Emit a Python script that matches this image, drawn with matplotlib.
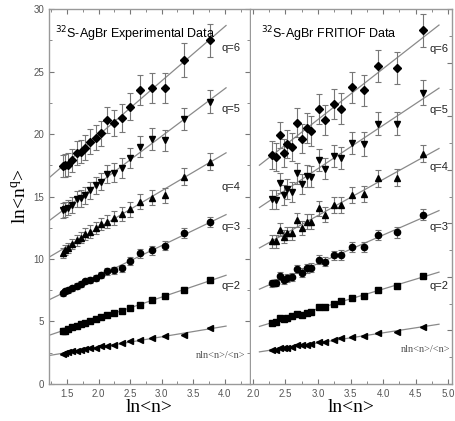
import matplotlib
matplotlib.use("Agg")
import matplotlib.pyplot as plt
import numpy as np
from matplotlib.ticker import MultipleLocator

# ---- experimental data (left panel) ----
x_exp = [1.43, 1.47, 1.52, 1.58, 1.66, 1.72, 1.79, 1.86, 1.96, 2.04,
         2.13, 2.24, 2.37, 2.50, 2.66, 2.84, 3.06, 3.36, 3.77]
exp_q6 = [17.45, 17.5, 17.55, 17.9, 18.5, 18.6, 18.9, 19.4, 19.7, 20.05,
          21.1, 20.9, 21.3, 22.2, 23.5, 23.7, 23.7, 25.9, 27.5]
exp_q5 = [13.9, 14.0, 14.1, 14.3, 14.8, 14.85, 15.1, 15.5, 15.9, 16.2,
          16.8, 16.9, 17.3, 18.1, 19.0, 19.6, 19.5, 21.2, 22.6]
exp_q4 = [10.5, 10.7, 10.9, 11.2, 11.5, 11.7, 12.0, 12.2, 12.5, 12.8,
          13.0, 13.3, 13.6, 14.0, 14.6, 14.9, 15.1, 16.6, 17.8]
exp_q3 = [7.25, 7.4, 7.5, 7.65, 7.85, 8.0, 8.2, 8.3, 8.5, 8.7,
          9.0, 9.1, 9.25, 9.85, 10.45, 10.7, 11.05, 12.05, 13.0]
exp_q2 = [4.2, 4.25, 4.4, 4.55, 4.65, 4.8, 4.9, 5.05, 5.2, 5.35,
          5.5, 5.65, 5.85, 6.1, 6.3, 6.7, 7.0, 7.55, 8.3]
exp_q0 = [2.4, 2.45, 2.55, 2.6, 2.65, 2.7, 2.8, 2.85, 2.9, 3.0,
          3.05, 3.1, 3.25, 3.4, 3.5, 3.65, 3.8, 3.95, 4.5]
exp_e6 = [0.9, 0.9, 0.9, 0.9, 0.95, 0.95, 1.0, 1.0, 1.0, 1.0,
          1.05, 1.05, 1.1, 1.1, 1.2, 1.2, 1.2, 1.35, 1.3]
exp_e5 = [0.6, 0.6, 0.6, 0.65, 0.65, 0.65, 0.7, 0.7, 0.7, 0.7,
          0.75, 0.75, 0.8, 0.8, 0.85, 0.85, 0.85, 0.9, 0.9]
exp_e4 = [0.4, 0.4, 0.4, 0.42, 0.45, 0.45, 0.45, 0.5, 0.5, 0.5,
          0.55, 0.55, 0.55, 0.6, 0.6, 0.6, 0.6, 0.7, 0.7]
exp_e3 = [0.2, 0.2, 0.2, 0.2, 0.22, 0.22, 0.22, 0.25, 0.25, 0.25,
          0.28, 0.28, 0.3, 0.3, 0.35, 0.35, 0.35, 0.4, 0.4]
exp_e2 = [0.1, 0.1, 0.1, 0.1, 0.1, 0.1, 0.1, 0.1, 0.12, 0.12,
          0.12, 0.12, 0.12, 0.14, 0.14, 0.15, 0.15, 0.18, 0.2]
exp_e0 = [0.06] * 19

# ---- FRITIOF data (right panel) ----
x_fri = [2.30, 2.35, 2.42, 2.47, 2.53, 2.60, 2.68, 2.75, 2.83, 2.90,
         3.01, 3.11, 3.24, 3.36, 3.52, 3.70, 3.93, 4.21, 4.62]
fri_q6 = [21.4, 21.2, 23.25, 21.6, 22.4, 22.15, 24.4, 22.9, 23.9, 23.6,
          25.7, 24.65, 26.15, 25.7, 27.7, 27.4, 29.7, 29.5, 33.0]
fri_q5 = [17.25, 17.2, 18.75, 17.65, 18.2, 17.95, 19.65, 18.65, 19.4, 19.35,
          20.9, 20.1, 21.3, 21.1, 22.5, 22.4, 24.3, 24.3, 27.2]
fri_q4 = [13.3, 13.3, 14.4, 13.75, 14.05, 14.05, 15.3, 14.55, 15.15, 15.15,
          16.4, 15.8, 16.7, 16.7, 17.65, 17.75, 19.2, 19.25, 21.5]
fri_q3 = [9.4, 9.45, 10.1, 9.7, 9.85, 10.0, 10.7, 10.4, 10.8, 10.85,
          11.6, 11.4, 12.0, 12.05, 12.75, 12.8, 13.9, 14.15, 15.8]
fri_q2 = [5.7, 5.8, 6.15, 6.05, 6.2, 6.3, 6.55, 6.45, 6.65, 6.7,
          7.15, 7.15, 7.45, 7.7, 8.05, 8.2, 8.8, 9.15, 10.1]
fri_q0 = [3.17, 3.17, 3.33, 3.33, 3.4, 3.42, 3.6, 3.6, 3.64, 3.7,
          3.95, 3.9, 4.1, 4.27, 4.36, 4.48, 4.73, 4.88, 5.35]
fri_e6 = [1.3, 1.3, 1.25, 1.3, 1.3, 1.3, 1.35, 1.35, 1.4, 1.4,
          1.4, 1.4, 1.4, 1.45, 1.45, 1.45, 1.5, 1.5, 1.55]
fri_e5 = [0.9, 0.9, 0.9, 0.9, 0.95, 0.95, 0.95, 0.95, 1.0, 1.0,
          1.0, 1.0, 1.05, 1.05, 1.05, 1.1, 1.1, 1.1, 1.15]
fri_e4 = [0.6, 0.6, 0.6, 0.62, 0.62, 0.65, 0.65, 0.65, 0.68, 0.7,
          0.7, 0.7, 0.72, 0.72, 0.75, 0.75, 0.78, 0.78, 0.8]
fri_e3 = [0.35, 0.35, 0.35, 0.37, 0.37, 0.38, 0.38, 0.4, 0.4, 0.4,
          0.42, 0.42, 0.44, 0.44, 0.46, 0.46, 0.48, 0.48, 0.5]
fri_e2 = [0.15] * 19
fri_e0 = [0.07] * 19

markers = ["D", "v", "^", "o", "s", "<"]
labels = ["q=6", "q=5", "q=4", "q=3", "q=2", "nln<n>/<n>"]

plt.rcParams["font.family"] = ["Liberation Sans", "DejaVu Sans"]

fig = plt.figure(figsize=(4.55, 4.21), dpi=100)
ax1 = fig.add_axes([0.1077, 0.0879, 0.4418, 0.8907])
ax2 = fig.add_axes([0.5516, 0.0879, 0.4418, 0.8907])

GRAY = "#8a8a8a"


def draw_panel(ax, x, series, errors, xfit, label_pos, nl_pos):
    x = np.array(x)
    for k, (y, e) in enumerate(zip(series, errors)):
        y = np.array(y)
        a, b = np.polyfit(x, y, 1)
        xf = np.array(xfit)
        ax.plot(xf, a * xf + b, color=GRAY, lw=0.9, zorder=1)
        ax.errorbar(x, y, yerr=e, fmt="none", ecolor="#777777",
                    elinewidth=0.8, capsize=2.2, capthick=0.8, zorder=2)
        ms = 4.5 if markers[k] != "D" else 4.0
        ax.plot(x, y, linestyle="none", marker=markers[k], ms=ms,
                color="black", zorder=3)
    for lab, (lx, ly) in zip(labels[:5], label_pos):
        ax.text(lx, ly, lab, fontsize=8, color="#222222", va="center")
    ax.text(nl_pos[0], nl_pos[1], labels[5], fontsize=7.5, color="#555555",
            family="Liberation Serif", ha="right", va="center")


def style_axes(ax):
    for s in ax.spines.values():
        s.set_color("#999999")
        s.set_linewidth(1.0)
    ax.tick_params(which="both", direction="in", color="#777777",
                   labelsize=7, labelcolor="#555555", top=True, right=True)
    ax.tick_params(which="major", length=3.5)
    ax.tick_params(which="minor", length=2.5)
    ax.xaxis.set_major_locator(MultipleLocator(0.5))
    ax.xaxis.set_minor_locator(MultipleLocator(0.25))
    ax.yaxis.set_major_locator(MultipleLocator(5))
    ax.yaxis.set_minor_locator(MultipleLocator(2.5))
    ax.set_xlabel("ln<n>", family="Liberation Serif", fontsize=14, labelpad=0)


draw_panel(ax1, x_exp,
           [exp_q6, exp_q5, exp_q4, exp_q3, exp_q2, exp_q0],
           [exp_e6, exp_e5, exp_e4, exp_e3, exp_e2, exp_e0],
           [1.215, 4.02],
           [(3.95, 26.9), (3.95, 22.0), (3.95, 15.8), (3.95, 12.6), (3.95, 7.8)],
           (4.32, 2.3))
style_axes(ax1)
ax1.set_xlim(1.215, 4.4)
ax1.set_ylim(0, 30)
ax1.set_ylabel("ln<n$^{\\mathregular{q}}$>", family="Liberation Serif",
               fontsize=14, labelpad=2)
ax1.text(0.03, 0.96, "$^{32}$S-AgBr Experimental Data", transform=ax1.transAxes,
         fontsize=9, va="top", ha="left")

draw_panel(ax2, x_fri,
           [fri_q6, fri_q5, fri_q4, fri_q3, fri_q2, fri_q0],
           [fri_e6, fri_e5, fri_e4, fri_e3, fri_e2, fri_e0],
           [2.1, 4.86],
           [(4.72, 31.3), (4.72, 25.6), (4.72, 20.3), (4.72, 14.7), (4.72, 9.1)],
           (5.04, 3.2))
style_axes(ax2)
ax2.set_xlim(1.97, 5.06)
ax2.set_ylim(0, 35)
ax2.tick_params(which="both", left=False, labelleft=False)
ax2.spines["left"].set_visible(False)
ax2.text(0.05, 0.96, "$^{32}$S-AgBr FRITIOF Data", transform=ax2.transAxes,
         fontsize=9, va="top", ha="left")

fig.savefig("out.png", dpi=100)
